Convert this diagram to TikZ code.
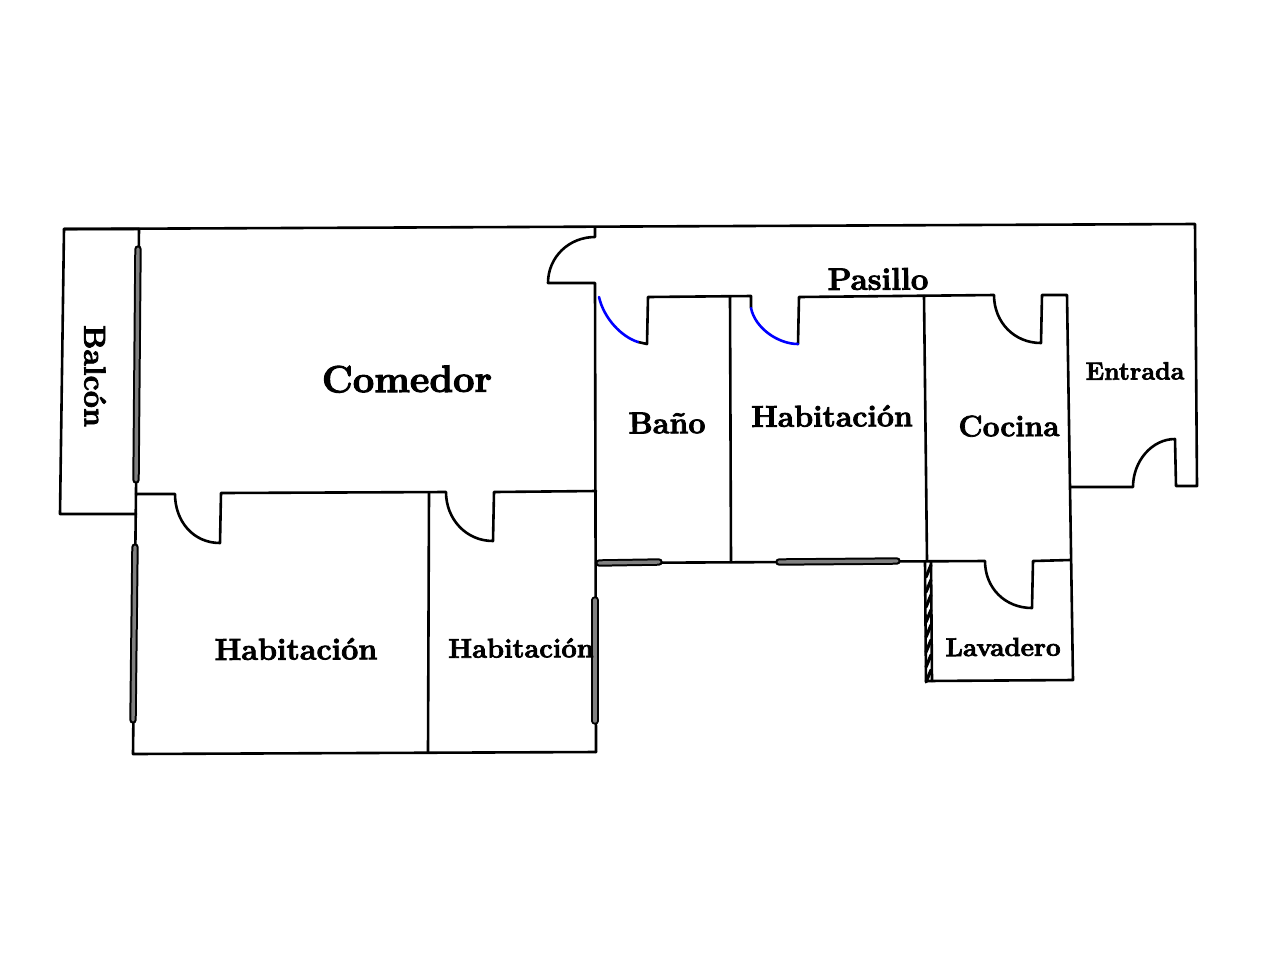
\documentclass[tikz,border=0pt]{standalone}
\usepackage{fontspec}
\newfontfamily\roomfont{Latin Modern Roman}[BoldFeatures={FakeBold=2.6}]

\def\doorr{27}

\begin{document}
\begin{tikzpicture}[
    x=0.5pt,y=-0.5pt,
    wall/.style={draw=black,line width=1.3pt,line join=round,line cap=round},
    door/.style={wall,draw=blue},
    window/.style={draw=black,line width=1pt,double=gray,double distance=1.7pt,line cap=round},
    room/.style={inner sep=0pt,rotate=0.25},
]
\useasboundingbox (0,0) rectangle (1280,960);

%% Outer walls, with the entrance door
\draw[wall] (139,229) -- (64,229) -- (60,514) -- (136,514);
\draw[wall] (64,229) -- (1195,224) -- (1197,486) -- (1176,486) -- (1175,439)
    .. controls +(-23,0) and +(0,-26) .. (1133,487) -- (1071,487);
\draw[wall] (139,229) -- (133,754) -- (596,752);

% Pasillo door and the wall below it
\draw[wall] (595,228) -- (595,237)
    .. controls +(-26,0) and +(0,-26) .. (548,283) -- (595,283) -- (596,752);

%% Comedor and the two rooms under it
\draw[wall] (136,494) -- (175,494)
    .. controls +(0,\doorr) and +(-\doorr,0) .. (220,543) -- (221,493) -- (446,492)
    .. controls +(0,\doorr) and +(-\doorr,0) .. (493,541) -- (494,492) -- (596,491);
\draw[wall] (429,493) -- (428,752);

%% Wall along the corridor
\draw[wall] (638,342) -- (647,344) -- (648,297) -- (751,296) -- (751,308);
\draw[wall] (798,344) -- (799,297) -- (994,295)
    .. controls +(0,\doorr) and +(-\doorr,0) .. (1041,343) -- (1042,295) -- (1067,295) -- (1073,680)
    -- (926,681) -- (925,562);
\draw[door] (599,297) .. controls +(5,22) and +(-16,-5) .. (638,342);
\draw[door] (751,308) .. controls +(4,20) and +(-20,0) .. (798,344);

% Partitions
\draw[wall] (730,297) -- (731,562);
\draw[wall] (924,296) -- (927,560);

%% Wall along the back, with the lavadero door
\draw[wall] (596,563) -- (985,561)
    .. controls +(0,\doorr) and +(-\doorr,0) .. (1032,608) -- (1033,561) -- (1070,560);

% Windows
\draw[window] (138,249) -- (136,480);
\draw[window] (135,547) -- (133,720);
\draw[window] (595,600) -- (595,721);
\draw[window] (599,563) -- (659,562);
\draw[window] (779,562) -- (897,561);

% Hatched wall of the lavadero
\draw[wall] (931,562) -- (932,681);
\foreach \h in {568,583,...,673}
    \draw[wall,line width=1.6pt] (926,\h+9) -- (931,\h-3);

%% Labels
\node[room,font=\roomfont\bfseries\fontsize{19}{21}\selectfont] (comedor) at (407,379) {Comedor};
\node[room,rotate=-90,font=\roomfont\bfseries\fontsize{15.2}{17}\selectfont] (balcon) at (95,376) {Balcón};
\node[room,font=\roomfont\bfseries\fontsize{15.6}{17}\selectfont] (pasillo) at (878,279) {Pasillo};
\node[room,font=\roomfont\bfseries\fontsize{15.2}{17}\selectfont] (bano) at (667,423) {Baño};
\node[room,font=\roomfont\bfseries\fontsize{15.1}{17}\selectfont] (hab1) at (832,416) {Habitación};
\node[room,font=\roomfont\bfseries\fontsize{14.9}{17}\selectfont] (cocina) at (1009,426) {Cocina};
\node[room,font=\roomfont\bfseries\fontsize{12.5}{14}\selectfont] (entrada) at (1135,371) {Entrada};
\node[room,font=\roomfont\bfseries\fontsize{15.2}{17}\selectfont] (hab2) at (296,649) {Habitación};
\node[room,font=\roomfont\bfseries\fontsize{13.6}{15}\selectfont] (hab3) at (521,648) {Habitación};
\node[room,font=\roomfont\bfseries\fontsize{13}{15}\selectfont] (lavadero) at (1003,647) {Lavadero};
\end{tikzpicture}
\end{document}
